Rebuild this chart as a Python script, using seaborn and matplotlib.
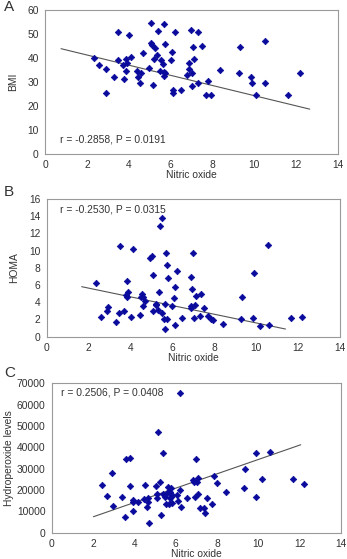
import matplotlib
matplotlib.use("Agg")
import matplotlib.pyplot as plt
import seaborn as sns
import pandas as pd
import numpy as np

# ---- data ----
no_a = [2.35, 2.6, 2.9, 2.9, 3.3, 3.5, 3.5, 3.7, 3.75, 3.85, 3.85, 3.9, 4.0, 4.1,
        4.4, 4.45, 4.55, 4.6, 4.7, 4.95, 5.05, 5.07, 5.1, 5.17, 5.2, 5.25, 5.35,
        5.42, 5.5, 5.55, 5.63, 5.66, 5.68, 5.7, 5.73, 5.75, 6.0, 6.05, 6.1, 6.1,
        6.2, 6.5, 6.8, 6.86, 6.9, 6.97, 7.0, 7.03, 7.08, 7.13, 7.3, 7.33, 7.48,
        7.68, 7.8, 7.95, 8.37, 9.26, 9.34, 9.86, 9.9, 10.1, 10.53, 10.53, 11.6, 12.18]
bmi = [40.0, 37.3, 35.5, 25.4, 32.0, 50.9, 39.2, 37.0, 31.2, 39.8, 34.8, 37.8, 49.7, 40.6,
       34.8, 31.9, 29.7, 33.7, 42.1, 36.0, 54.5, 46.4, 45.4, 28.7, 39.8, 44.1, 41.2,
       51.4, 34.8, 39.2, 37.6, 34.2, 32.7, 54.0, 46.0, 33.7, 39.2, 42.4, 26.7, 25.5,
       50.9, 26.6, 32.8, 38.1, 35.3, 51.8, 33.8, 28.5, 44.8, 39.4, 29.7, 50.9, 44.9,
       24.8, 30.6, 24.8, 35.2, 33.9, 44.5, 32.1, 29.8, 24.7, 47.0, 29.4, 24.8, 33.7]

no_b = [2.35, 2.59, 2.86, 2.94, 3.33, 3.47, 3.52, 3.71, 3.77, 3.82, 3.84, 3.88, 4.01, 4.1,
        4.45, 4.49, 4.53, 4.6, 4.61, 4.68, 4.93, 5.04, 5.07, 5.06, 5.22, 5.22, 5.35,
        5.31, 5.41, 5.52, 5.49, 5.59, 5.63, 5.66, 5.68, 5.73, 5.76, 5.78, 6.0, 6.06,
        6.12, 6.12, 6.2, 6.47, 6.89, 6.88, 6.89, 6.94, 7.0, 7.03, 7.08, 7.14, 7.3,
        7.35, 7.49, 7.71, 7.84, 7.95, 8.43, 9.29, 9.34, 9.86, 9.89, 10.18, 10.56,
        10.6, 11.65, 12.19]
homa = [6.28, 2.25, 2.98, 3.49, 1.67, 2.74, 10.54, 3.02, 4.84, 4.65, 6.47, 5.23, 2.25, 10.15,
        2.52, 4.65, 5.0, 3.56, 4.61, 4.18, 9.1, 9.41, 7.13, 2.98, 3.64, 3.84, 5.15,
        3.06, 12.86, 13.75, 2.79, 2.01, 0.85, 3.76, 9.76, 8.37, 2.01, 6.86, 3.56, 4.53,
        5.77, 1.32, 7.67, 2.13, 6.94, 3.56, 3.37, 5.54, 9.69, 2.21, 3.68, 4.73, 2.36,
        5.0, 3.33, 2.44, 2.05, 1.9, 1.47, 2.05, 4.61, 2.13, 7.44, 1.24, 10.65,
        1.36, 2.13, 2.25]

no_c = [2.42, 2.66, 2.94, 2.99, 3.41, 3.57, 3.58, 3.81, 3.78, 3.92, 3.92, 3.94, 4.18, 4.47,
        4.52, 4.62, 4.65, 4.68, 4.73, 5.05, 5.12, 5.12, 5.17, 5.26, 5.31, 5.38, 5.41,
        5.47, 5.52, 5.57, 5.65, 5.68, 5.72, 5.75, 5.8, 5.8, 5.83, 5.85, 6.06, 6.1,
        6.19, 6.22, 6.27, 6.56, 6.86, 6.91, 6.94, 7.01, 7.02, 7.07, 7.1, 7.17, 7.36,
        7.41, 7.51, 7.77, 7.86, 8.03, 8.45, 9.32, 9.38, 9.91, 9.91, 10.19, 10.58,
        11.69, 12.22]
hydro = [22340, 17340, 27810, 12500, 16560, 7190, 34375, 35000, 22030, 10310, 14220, 15160,
         14375, 15940, 22340, 12190, 14220, 16090, 4375, 21720, 16250, 17970, 47030, 23900,
         8125, 37340, 18280, 16720, 13280, 18440, 21410, 13280, 16090, 19220, 16880, 20780,
         14060, 17660, 17660, 14840, 19840, 65470, 12030, 16410, 24690, 23900, 16560, 34375,
         23900, 18280, 25780, 11720, 11720, 9060, 16410, 13440, 26560, 23125, 18910, 20940,
         29690, 37340, 16720, 25160, 37970, 25000, 22970]

# trend lines (end points as drawn in the reference)
fit_a_x, fit_a_y = [0.76, 12.65], [43.9, 18.7]
fit_b_x, fit_b_y = [1.67, 11.4], [5.81, 0.89]
fit_c_x, fit_c_y = [2.02, 12.06], [7500, 41250]

sns.set_style("white")
plt.rcParams['font.family'] = ['Liberation Sans', 'DejaVu Sans']

FS = 7.4
fig = plt.figure(figsize=(3.47, 5.59), dpi=100)

panels = [
    # letter, rect, x, y, fit x, fit y, ylabel, ymax, ystep, note, note pos, letter y, ylabel pad
    ("A", [0.130, 0.7245, 0.844, 0.2575], no_a, bmi, fit_a_x, fit_a_y, "BMI", 60, 10,
     "r = -0.2858, P = 0.0191", (0.7, 6.1), 0.988, 7),
    ("B", [0.1346, 0.3977, 0.845, 0.2463], no_b, homa, fit_b_x, fit_b_y, "HOMA", 16, 2,
     "r = -0.2530, P = 0.0315", (0.64, 14.8), 0.657, 7),
    ("C", [0.149, 0.047, 0.833, 0.267], no_c, hydro, fit_c_x, fit_c_y, "Hydroperoxide levels",
     70000, 10000, "r = 0.2506, P = 0.0408", (0.45, 65600), 0.333, 2),
]

for letter, rect, xs, ys, fx, fy, ylab, ymax, ystep, note, npos, ly, lpad in panels:
    ax = fig.add_axes(rect)
    df = pd.DataFrame({"x": xs, "y": ys})
    sns.lineplot(x=fx, y=fy, ax=ax, color="#555555", linewidth=0.8)
    sns.scatterplot(data=df, x="x", y="y", ax=ax, marker="D", s=11,
                    color="#0a0a9c", edgecolor="#0a0a9c", linewidth=0.5, zorder=3)
    ax.set_xlim(0, 14)
    ax.set_ylim(0, ymax)
    ax.set_xticks(np.arange(0, 15, 2))
    ax.set_yticks(np.arange(0, ymax + 1, ystep))
    ax.tick_params(axis="both", direction="out", length=2.5, width=0.6,
                   colors="#999999", labelcolor="#333333", labelsize=FS, pad=2)
    for sp in ax.spines.values():
        sp.set_visible(True)
        sp.set_color("#999999")
        sp.set_linewidth(0.8)
    ax.set_xlabel("Nitric oxide", fontsize=FS, color="#333333", labelpad=0)
    ax.set_ylabel(ylab, fontsize=FS, color="#333333", labelpad=lpad)
    ax.text(npos[0], npos[1], note, fontsize=FS, color="#333333", va="center", ha="left")
    fig.text(0.012, ly, letter, fontsize=11, color="#333333", va="center", ha="left")

fig.savefig("out.png", dpi=100)
